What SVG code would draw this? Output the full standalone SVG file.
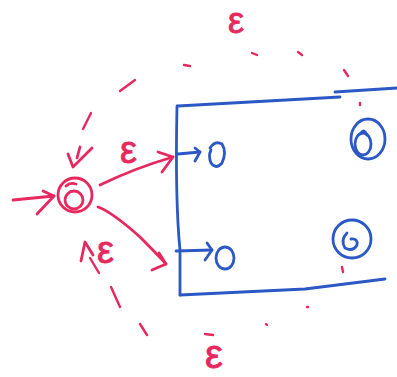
<svg xmlns="http://www.w3.org/2000/svg" width="397" height="377" viewBox="0 0 397 377">
<style>
.p{fill:none;stroke:#e6285e;stroke-width:2.8;stroke-linecap:round;stroke-linejoin:round}
.pd{fill:none;stroke:#e6285e;stroke-width:2.4;stroke-linecap:round}
.b{fill:none;stroke:#2b58c4;stroke-width:2.8;stroke-linecap:round;stroke-linejoin:round}
.lab{font-family:"Liberation Sans",Arial,sans-serif;fill:#e6285e;stroke:#e6285e;stroke-width:0.8}
</style>
<rect width="397" height="377" fill="#ffffff"/>
<g id="box">
<path class="b" d="M177,106 Q175,200 180,250 L180,295"/>
<path class="b" d="M178,106 L340,97"/>
<path class="b" d="M335,92 L397,88"/>
<path class="b" d="M180,295 L305,289 L385,279"/>
</g>
<g id="start">
<circle class="p" cx="75" cy="195" r="17"/>
<circle class="p" cx="74" cy="200" r="9"/>
<path class="p" d="M66,186 Q70,182 76,184"/>
</g>
<g id="q1">
<path class="b" d="M210,148 Q215,140 222,144 Q227,152 222,163 Q216,170 211,163 Q208,156 211,150"/>
</g>
<g id="q2">
<ellipse class="b" cx="225" cy="258" rx="9" ry="11"/>
</g>
<g id="f1">
<ellipse class="b" cx="368" cy="139" rx="17" ry="20"/>
<ellipse class="b" cx="363" cy="144" rx="8" ry="11"/>
<path class="b" d="M361,133 Q364,128 367,135"/>
</g>
<g id="f2">
<circle class="b" cx="352" cy="239" r="19"/>
<path class="b" d="M347,233 Q340,240 345,248 Q353,252 357,245 Q358,238 351,239"/>
</g>
<g id="connectors">
<path class="p" d="M13,200 L54,196"/>
<path class="p" d="M43,191 L54,196 L37,214"/>
<path class="p" d="M100,185 Q135,168 173,157"/>
<path class="p" d="M158,152 L173,157 L162,172"/>
<path class="p" d="M98,207 Q112,212 140,237 Q155,252 166,264"/>
<path class="p" d="M159,253 L166,264 L152,270"/>
<path class="b" d="M178,154 L200,152"/>
<path class="b" d="M195,148 L200,152 L195,161"/>
<path class="b" d="M176,251 L212,250"/>
<path class="b" d="M207,243 L212,250 L205,260"/>
<path class="p" d="M68,154 L73,167 L92,148"/>
<path class="p" d="M80,147 L77,158"/>
<path class="pd" d="M83,129 L91,113"/>
<path class="pd" d="M120,91 L135,80"/>
<path class="pd" d="M184,65 L190,66"/>
<path class="pd" d="M252,53 L257,55"/>
<path class="pd" d="M298,52 L302,55"/>
<path class="pd" d="M344,70 L348,76"/>
<path class="pd" d="M360,103 L360,105"/>
<path class="p" d="M81,261 L85,242 L93,255"/>
<path class="pd" d="M90,258 L99,273"/>
<path class="pd" d="M111,287 L120,307"/>
<path class="pd" d="M140,324 L147,335"/>
<path class="pd" d="M205,334 L213,335"/>
<path class="pd" d="M266,324 L267,325"/>
<path class="pd" d="M307,307 L308,307"/>
<path class="pd" d="M342,267 L343,272"/>
</g>
<g id="labels">
<text class="lab" x="120" y="163" font-size="38">ε</text>
<text class="lab" x="97" y="263" font-size="38">ε</text>
<text class="lab" x="228" y="33" font-size="36">ε</text>
<text class="lab" x="205" y="368" font-size="40">ε</text>
</g>
</svg>
